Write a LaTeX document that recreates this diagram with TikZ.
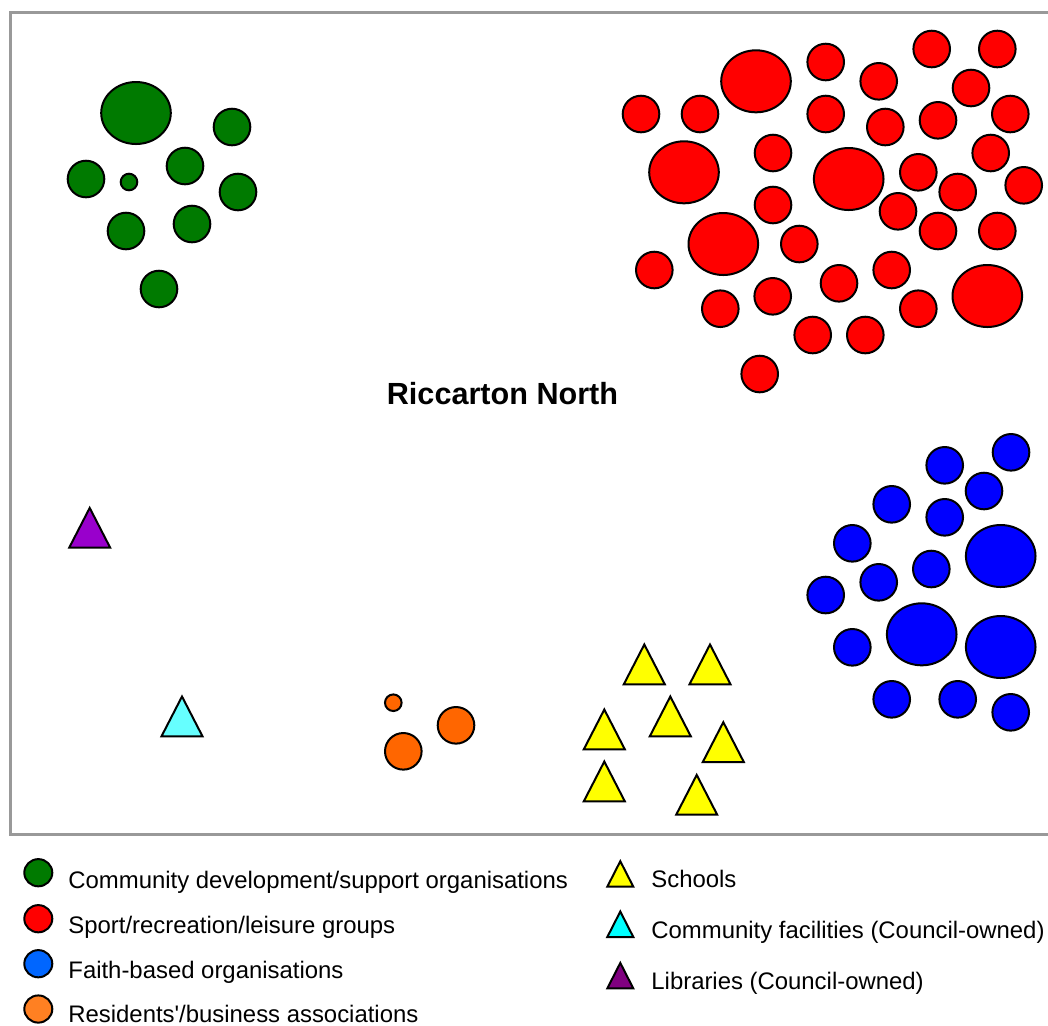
\documentclass[tikz,border=0pt]{standalone}
\usepackage{fontspec}
\setmainfont{Liberation Sans}

\definecolor{frameGray}{RGB}{153,153,153}
\definecolor{cdevGreen}{RGB}{0,122,0}
\definecolor{sportRed}{RGB}{255,0,0}
\definecolor{faithBlue}{RGB}{0,0,255}
\definecolor{faithKey}{RGB}{0,102,255}
\definecolor{residOrange}{RGB}{255,102,0}
\definecolor{residKey}{RGB}{255,128,34}
\definecolor{schoolYellow}{RGB}{255,255,0}
\definecolor{facilCyan}{RGB}{102,255,255}
\definecolor{facilKey}{RGB}{0,255,255}
\definecolor{libPurple}{RGB}{153,0,204}
\definecolor{libKey}{RGB}{128,0,128}

\begin{document}
\begin{tikzpicture}[x = 0.5pt, y = -0.5pt,
    blob/.style = {draw = black, line width = 1pt},
    tri/.style = {draw = black, line width = 1pt, line join = miter},
    keytext/.style = {anchor = base west, inner sep = 0pt,
        font = \fontsize{11.95}{14}\selectfont}]

    \useasboundingbox (0, 0) rectangle (1048, 1025);

% The frame is open on the right, it runs off the page.
    \draw [frameGray, line width = 1.5pt] (1048, 12.5) -- (10, 12.5) -- (10, 834) -- (1048, 834);

% Community development/support organisations
    \draw [blob, fill = cdevGreen] (136, 113) ellipse [x radius = 34.8, y radius = 31];
    \foreach \x/\y in {232/127, 185/166, 86/179, 238/192, 126/231, 192/224, 159/289}
        \draw [blob, fill = cdevGreen] (\x, \y) circle [radius = 18.3];
    \draw [blob, fill = cdevGreen] (129, 182) circle [radius = 8.3];

% Sport/recreation/leisure groups
    \foreach \x/\y in {756/81.3, 684/172.3, 848.7/179, 723.3/244, 987.3/296}
        \draw [blob, fill = sportRed] (\x, \y) ellipse [x radius = 34.8, y radius = 31];
    \foreach \x/\y in {825.7/62, 931.7/49, 997.3/49, 878.7/81.3, 971/88,
                       641/114, 700/114, 825.7/114, 885.3/127, 938/120.3, 1010.3/114,
                       773/153, 918.3/172.3, 990.7/153, 1023.7/185.3, 957.7/192,
                       773/205, 898/211.3, 938/231, 997.3/231, 799.3/244,
                       654.3/270, 891.7/270, 839/283.3, 772.7/296.3, 720.3/308.7,
                       918.3/308.7, 812.7/335, 865.3/335, 759.7/374}
        \draw [blob, fill = sportRed] (\x, \y) circle [radius = 18.3];

% Faith-based organisations
    \foreach \x/\y in {1000.7/556, 921.7/634.3, 1000.7/647}
        \draw [blob, fill = faithBlue] (\x, \y) ellipse [x radius = 34.8, y radius = 31];
    \foreach \x/\y in {1011/452.3, 944.7/465.3, 984/491, 891.7/504.3, 944.7/517.3,
                       852.3/543.3, 931.3/569, 878.7/582.3, 825.7/595, 852.3/647.3,
                       891.7/699.3, 957.7/699.3, 1010.7/712.3}
        \draw [blob, fill = faithBlue] (\x, \y) circle [radius = 18.3];

% Residents'/business associations
    \draw [blob, fill = residOrange] (393.3, 702.7) circle [radius = 8.3];
    \foreach \x/\y in {456/725.3, 403.3/751.3}
        \draw [blob, fill = residOrange] (\x, \y) circle [radius = 18.3];

% Schools, community facilities and libraries: triangles hang from the apex.
    \foreach \x/\y in {644.3/642.3, 710/642.3, 670.3/694.3, 604.3/707.3,
                       723.3/720, 604.3/759.3, 696.7/772.7}
        \draw [tri, fill = schoolYellow] (\x, \y + 2.2) -- ++(20.5, 39.8) -- ++(-41, 0) -- cycle;
    \draw [tri, fill = facilCyan] (182, 696.5) -- ++(20.5, 39.8) -- ++(-41, 0) -- cycle;
    \draw [tri, fill = libPurple] (89.7, 507.9) -- ++(20.5, 39.8) -- ++(-41, 0) -- cycle;

    \node [anchor = base, inner sep = 0pt, font = \fontsize{15.3}{18}\selectfont\bfseries]
        (title) at (502.5, 404.3) {Riccarton North};

% Key
    \draw [blob, fill = cdevGreen] (38.3, 872.7) ellipse [x radius = 14, y radius = 13.6];
    \draw [blob, fill = sportRed] (38.3, 918.7) ellipse [x radius = 14, y radius = 13.6];
    \draw [blob, fill = faithKey] (38.3, 963.7) ellipse [x radius = 14, y radius = 13.6];
    \draw [blob, fill = residKey] (38.3, 1009) ellipse [x radius = 14, y radius = 13.6];
    \node [keytext] (keyCdev) at (68, 888) {Community development/support organisations};
    \node [keytext] (keySport) at (68, 933) {Sport/recreation/leisure groups};
    \node [keytext] (keyFaith) at (68, 978.3) {Faith-based organisations};
    \node [keytext] (keyResid) at (68, 1022) {Residents\textquotesingle/business associations};

    \draw [tri, fill = schoolYellow] (620.3, 861.2) -- ++(13, 25.5) -- ++(-26, 0) -- cycle;
    \draw [tri, fill = facilKey] (620.3, 911.5) -- ++(13, 25.5) -- ++(-26, 0) -- cycle;
    \draw [tri, fill = libKey] (620.3, 962.9) -- ++(13, 25.5) -- ++(-26, 0) -- cycle;
    \node [keytext] (keySchool) at (651, 887.7) {Schools};
    \node [keytext] (keyFacil) at (651, 938.3) {Community facilities (Council-owned)};
    \node [keytext] (keyLib) at (651, 989.7) {Libraries (Council-owned)};

\end{tikzpicture}
\end{document}
